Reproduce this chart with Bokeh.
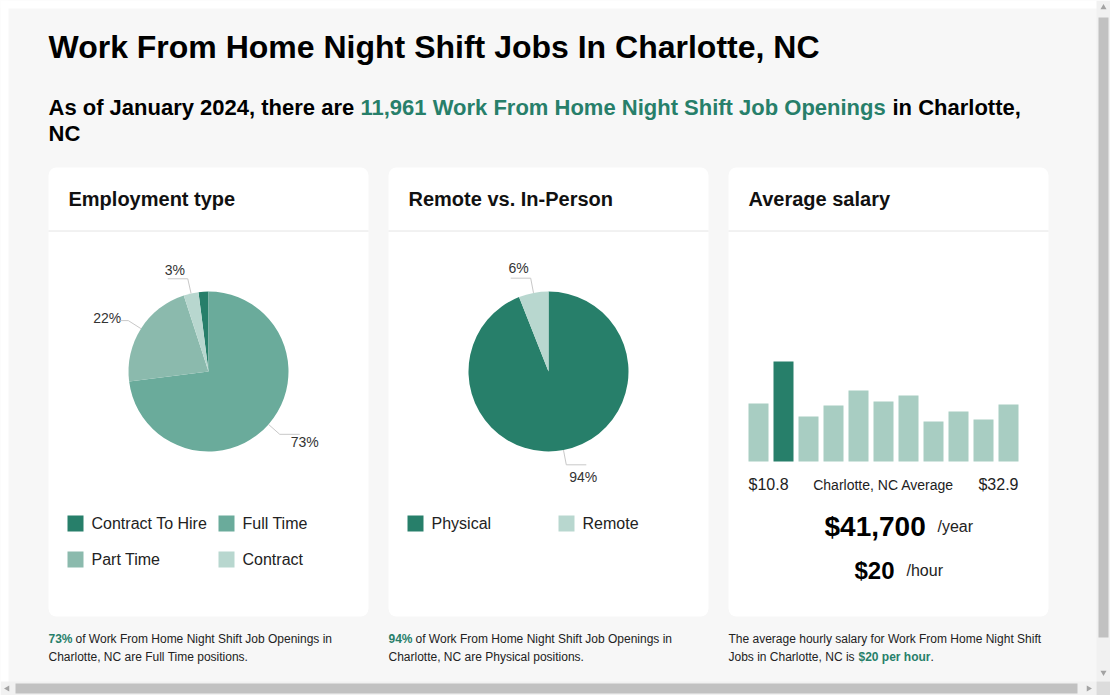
import math
from bokeh.plotting import figure
from bokeh.models import Range1d, BoxAnnotation
from bokeh.core.properties import value
from bokeh.embed import file_html
from bokeh.resources import INLINE

# ---------------- data ----------------
page_title = "Work From Home Night Shift Jobs In Charlotte, NC"
sub_pre = "As of January 2024, there are"
sub_hl = "11,961 Work From Home Night Shift Job Openings"
sub_post1 = "in Charlotte,"
sub_post2 = "NC"

emp_title = "Employment type"
emp_types = ["Contract To Hire", "Full Time", "Part Time", "Contract"]
emp_share = [2, 73, 22, 3]
emp_show_label = [False, True, True, True]
emp_colors = ["#277f6a", "#6aab9b", "#8bbaad", "#b8d7cf"]

mode_title = "Remote vs. In-Person"
work_modes = ["Physical", "Remote"]
work_share = [94, 6]
work_show_label = [True, True]
work_colors = ["#277f6a", "#b8d7cf"]

sal_title = "Average salary"
salary_bins = [58, 100, 45, 56, 71, 60, 66, 40, 50, 42, 57]
highlight_bin = 1
salary_min_label = "$10.8"
salary_max_label = "$32.9"
avg_label = "Charlotte, NC Average"
avg_year = "$41,700"
avg_hour = "$20"

foot1 = ("73%", "of Work From Home Night Shift Job Openings in", "Charlotte, NC are Full Time positions.")
foot2 = ("94%", "of Work From Home Night Shift Job Openings in", "Charlotte, NC are Physical positions.")
foot3 = ("The average hourly salary for Work From Home Night Shift", "Jobs in Charlotte, NC is", "$20 per hour", ".")

# ---------------- layout / style ----------------
W, H = 1110, 695
FONT = value("Liberation Sans")
GREEN = "#277f6a"
INK = "#111111"
TXT = "#333333"


def Y(t):
    return H - t


p = figure(width=W, height=H, x_range=Range1d(0, W), y_range=Range1d(0, H),
           output_backend="svg", toolbar_location=None, min_border=0,
           x_axis_location=None, y_axis_location=None)
p.grid.visible = False
p.outline_line_color = None
p.background_fill_color = "#f7f7f7"
p.border_fill_color = "#ffffff"

# white page margin
p.quad(left=[0, 0], right=[8, W], top=[Y(0), Y(0)], bottom=[Y(H), Y(8)],
       fill_color="#ffffff", line_color=None)

# cards
cards_left = [48, 388, 728]
card_w = 320
card_top, card_bot = 167, 616
for cl in cards_left:
    p.add_layout(BoxAnnotation(left=cl, right=cl + card_w, top=Y(card_top), bottom=Y(card_bot),
                               fill_color="#ffffff", fill_alpha=1, line_color=None,
                               border_radius=8, level="underlay"))
p.segment(x0=[c for c in cards_left], x1=[c + card_w for c in cards_left],
          y0=[Y(230.5)] * 3, y1=[Y(230.5)] * 3, line_color="#e4e4e4", line_width=1)

def txt(x, y, s, size, color=TXT, bold=False, align="left"):
    p.text(x=[x], y=[Y(y)], text=[s], text_font=FONT, text_font_size=f"{size}px",
           text_font_style="bold" if bold else "normal", text_color=color,
           text_baseline="middle", text_align=align)

# headings
txt(48, 46, page_title, 32, "#000000", True)
txt(48, 107, sub_pre, 22, "#000000", True)
txt(360, 107, sub_hl, 22, GREEN, True)
txt(892, 107, sub_post1, 22, "#000000", True)
txt(48, 133, sub_post2, 22, "#000000", True)

for cl, t in zip(cards_left, [emp_title, mode_title, sal_title]):
    txt(cl + 20, 198, t, 20, INK, True)

# ---------------- pies ----------------
R = 80
def pie(cx, cy, shares, colors, show, start_frac, label_offsets, hlen):
    total = float(sum(shares))
    cum = -start_frac
    starts, ends, mids = [], [], []
    for s in shares:
        f0, f1 = cum, cum + s / total
        starts.append(math.pi / 2 - 2 * math.pi * f0)
        ends.append(math.pi / 2 - 2 * math.pi * f1)
        mids.append(2 * math.pi * (f0 + f1) / 2)
        cum = f1
    p.wedge(x=[cx] * len(shares), y=[Y(cy)] * len(shares), radius=R, radius_units="screen",
            start_angle=starts, end_angle=ends, direction="clock",
            fill_color=colors, line_color=None)
    xs, ys = [], []
    k = 0
    for s, m, sh in zip(shares, mids, show):
        if not sh:
            continue
        dx, dy = math.sin(m), -math.cos(m)
        x0, y0 = cx + R * dx, cy + R * dy
        x1, y1 = cx + (R + 15) * dx, cy + (R + 15) * dy
        sgn = 1 if dx >= 0 else -1
        x2 = x1 + sgn * hlen[k]
        xs.append([x0, x1, x2]); ys.append([Y(y0), Y(y1), Y(y1)])
        ox, oy = label_offsets[k]
        txt(x1 + sgn * 20 + ox, y1 + oy, f"{round(100 * s / total)}%", 14, TXT, False, "center")
        k += 1
    p.multi_line(xs=xs, ys=ys, line_color="#c8c8c8", line_width=1)

pie(208, 371, emp_share, emp_colors, emp_show_label, emp_share[0] / sum(emp_share),
    [(5, 8), (-1, -3), (7, -9)], [20, 8, 20])
pie(548, 371, work_share, work_colors, work_show_label, 0,
    [(-3, 12), (8, -10)], [20, 20])

# legends
def legend(cl, names, colors):
    for i, (n, c) in enumerate(zip(names, colors)):
        col, row = i % 2, i // 2
        sx = cl + 19 + col * 151
        sy = 523 + row * 36
        p.quad(left=[sx], right=[sx + 16], top=[Y(sy - 8)], bottom=[Y(sy + 8)],
               fill_color=c, line_color=None)
        txt(sx + 24, sy, n, 16, "#222222")

legend(48, emp_types, emp_colors)
legend(388, work_modes, work_colors)

# ---------------- salary histogram ----------------
base = 461
bar_pitch = 25
first_center = 758
p.extra_y_ranges = {"by": Range1d(start=-(H - base), end=base)}
p.extra_x_ranges = {"bx": Range1d(start=-first_center / bar_pitch, end=(W - first_center) / bar_pitch)}
idx = list(range(len(salary_bins)))
bar_cols = [GREEN if i == highlight_bin else "#a8cdc2" for i in idx]
p.vbar(x=idx, top=salary_bins, bottom=0, width=0.8, fill_color=bar_cols, line_color=None,
       x_range_name="bx", y_range_name="by")

txt(748, 484, salary_min_label, 16, "#222222")
txt(883, 484, avg_label, 14, "#222222", False, "center")
txt(1018, 484, salary_max_label, 16, "#222222", False, "right")
txt(824, 526, avg_year, 28, "#000000", True)
txt(937, 526, "/year", 16, "#222222")
txt(854, 570, avg_hour, 24, "#000000", True)
txt(906, 570, "/hour", 16, "#222222")

# ---------------- footnotes ----------------
txt(48, 638, foot1[0], 12, GREEN, True)
txt(75, 638, foot1[1], 12, "#222222")
txt(48, 656, foot1[2], 12, "#222222")
txt(388, 638, foot2[0], 12, GREEN, True)
txt(415, 638, foot2[1], 12, "#222222")
txt(388, 656, foot2[2], 12, "#222222")
txt(728, 638, foot3[0], 12, "#222222")
txt(728, 656, foot3[1], 12, "#222222")
txt(858, 656, foot3[2], 12, GREEN, True)
txt(930, 656, foot3[3], 12, "#222222")

# ---------------- browser-like scrollbars ----------------
p.quad(left=[1096, 0, 1096], right=[W, 1096, W], top=[Y(0), Y(681), Y(681)], bottom=[Y(681), Y(H), Y(H)],
       fill_color=["#f1f1f1", "#f1f1f1", "#dcdcdc"], line_color=None)
p.quad(left=[1098, 15], right=[1108, 1077], top=[Y(17), Y(683)], bottom=[Y(637), Y(693)],
       fill_color="#c1c1c1", line_color=None)
p.scatter(x=[1103, 1103, 7, 1088], y=[Y(7), Y(672), Y(688), Y(688)], marker="triangle",
          size=6, angle=[0, math.pi, math.pi / 2, -math.pi / 2],
          fill_color="#a3a3a3", line_color=None)

open("out.html", "w").write(file_html(p, INLINE))
